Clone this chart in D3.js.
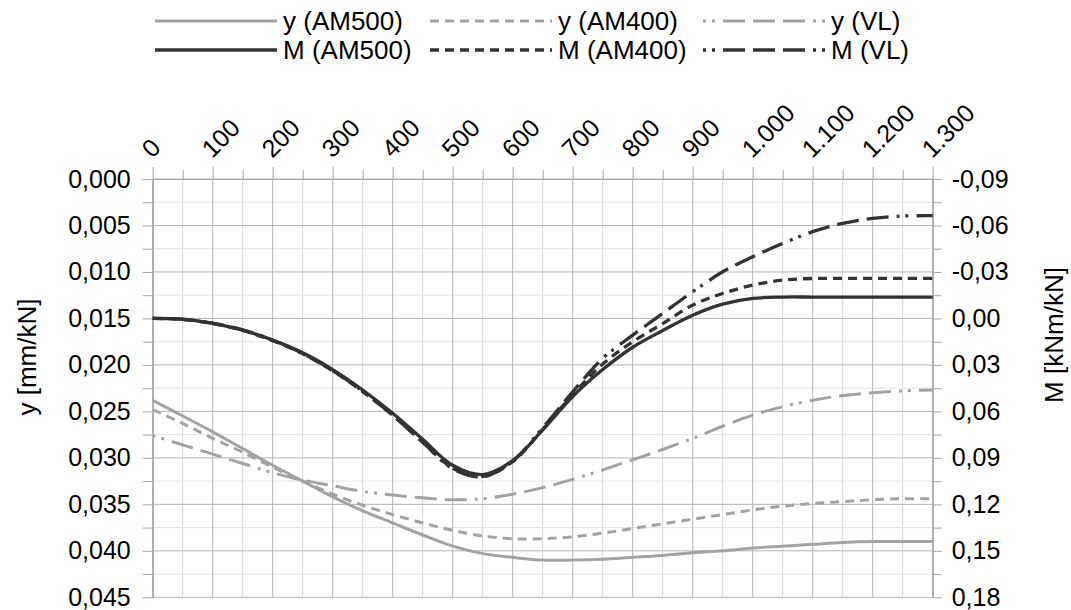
<!DOCTYPE html>
<html><head><meta charset="utf-8">
<script src="https://cdn.jsdelivr.net/npm/d3@7"></script>
<style>body{margin:0;background:#fff}</style>
</head><body>
<svg id="chart" width="1071" height="610"></svg>
<script>
// ---- data ----
const xValues = [0,50,100,150,200,250,300,350,400,450,500,550,600,650,700,750,800,850,900,950,1000,1050,1100,1150,1200,1250,1300];
const yAM500 = [0.0238,0.0255,0.0272,0.0290,0.0308,0.0325,0.0342,0.0357,0.0370,0.0383,0.0395,0.0403,0.0407,0.0410,0.0410,0.0409,0.0407,0.0405,0.0402,0.0400,0.0397,0.0395,0.0393,0.0391,0.0390,0.0390,0.0390];
const yAM400 = [0.0248,0.0263,0.0279,0.0294,0.0310,0.0325,0.0339,0.0351,0.0361,0.0370,0.0378,0.0384,0.0387,0.0387,0.0385,0.0381,0.0376,0.0371,0.0366,0.0361,0.0356,0.0352,0.0349,0.0347,0.0345,0.0344,0.0344];
const yVL    = [0.0276,0.0286,0.0296,0.0306,0.0316,0.0324,0.0330,0.0336,0.0340,0.0343,0.0345,0.0344,0.0339,0.0332,0.0323,0.0313,0.0302,0.0291,0.0279,0.0266,0.0254,0.0245,0.0238,0.0233,0.0230,0.0228,0.0227];
const mAM500 = [0.0000,0.0006,0.0032,0.0076,0.0140,0.0222,0.0330,0.0462,0.0612,0.0780,0.0948,0.1008,0.0918,0.0720,0.0504,0.0330,0.0186,0.0078,-0.0021,-0.0092,-0.0129,-0.0138,-0.0138,-0.0138,-0.0138,-0.0138,-0.0138];
const mAM400 = [0.0000,0.0006,0.0033,0.0078,0.0143,0.0228,0.0338,0.0472,0.0625,0.0798,0.0966,0.1020,0.0925,0.0716,0.0492,0.0294,0.0151,0.0033,-0.0086,-0.0161,-0.0215,-0.0247,-0.0258,-0.0258,-0.0258,-0.0258,-0.0258];
const mVL    = [0.0000,0.0005,0.0031,0.0074,0.0140,0.0226,0.0336,0.0470,0.0625,0.0800,0.0970,0.1022,0.0920,0.0706,0.0474,0.0258,0.0108,-0.0032,-0.0172,-0.0301,-0.0398,-0.0484,-0.0560,-0.0614,-0.0646,-0.0661,-0.0663];

const xTicks = [0,100,200,300,400,500,600,700,800,900,1000,1100,1200,1300];
const xMinorTicks = [50,150,250,350,450,550,650,750,850,950,1050,1150,1250];
const yTicks = [0,0.005,0.010,0.015,0.020,0.025,0.030,0.035,0.040,0.045];
const yMinorTicks = [0.0025,0.0075,0.0125,0.0175,0.0225,0.0275,0.0325,0.0375,0.0425];
const mTicks = [-0.09,-0.06,-0.03,0,0.03,0.06,0.09,0.12,0.15,0.18];
const legendNames = ["y (AM500)","y (AM400)","y (VL)","M (AM500)","M (AM400)","M (VL)"];
const yTitle = "y [mm/kN]";
const mTitle = "M [kNm/kN]";

// ---- setup ----
const locale = d3.formatLocale({decimal:",", thousands:".", grouping:[3], currency:["","€"], minus:"-"});
const fmtX = locale.format(",d");
const fmtY = locale.format(".3f");
const fmtM = locale.format(".2f");
const FONT = "'Liberation Sans', Arial, sans-serif";
const svg = d3.select("#chart");
const L = 152.7, R = 932.7, T = 179, B = 597.3;
const x = d3.scaleLinear([0,1300],[L,R]);
const yL = d3.scaleLinear([0,0.045],[T,B]);
const yR = d3.scaleLinear([-0.09,0.18],[T,B]);
const axisGray = "#a6a6a6";

// grid
const grid = svg.append("g");
grid.selectAll(".vmin").data(xMinorTicks).join("line")
  .attr("x1",d=>x(d)).attr("x2",d=>x(d)).attr("y1",T).attr("y2",B)
  .attr("stroke","#d6d6d6").attr("stroke-width",1);
grid.selectAll(".hmin").data(yMinorTicks).join("line")
  .attr("x1",L).attr("x2",R).attr("y1",d=>yL(d)).attr("y2",d=>yL(d))
  .attr("stroke","#e4e4e4").attr("stroke-width",1);
grid.selectAll(".vmaj").data(xTicks).join("line")
  .attr("x1",d=>x(d)).attr("x2",d=>x(d)).attr("y1",T).attr("y2",B)
  .attr("stroke","#b3b3b3").attr("stroke-width",1);
grid.selectAll(".hmaj").data(yTicks).join("line")
  .attr("x1",L).attr("x2",R).attr("y1",d=>yL(d)).attr("y2",d=>yL(d))
  .attr("stroke","#b3b3b3").attr("stroke-width",1);

function styleAxis(g){
  g.attr("font-family",FONT).attr("font-size",25);
  g.selectAll("path.domain").attr("stroke",axisGray);
  g.selectAll(".tick line").attr("stroke",axisGray);
  g.selectAll("text").attr("fill","#000");
}
// top axis
const gTop = svg.append("g").attr("transform",`translate(0,${T})`)
  .call(d3.axisTop(x).tickValues(xTicks).tickSize(12).tickSizeOuter(0).tickFormat(fmtX));
styleAxis(gTop);
gTop.selectAll("text").attr("x",null).attr("y",null).attr("dy",null)
  .attr("text-anchor","start").attr("transform","translate(-1,-20) rotate(-45)");
const gTopMin = svg.append("g").attr("transform",`translate(0,${T})`)
  .call(d3.axisTop(x).tickValues(xMinorTicks).tickSize(9).tickSizeOuter(0).tickFormat(""));
styleAxis(gTopMin);
// left axis
const gLeft = svg.append("g").attr("transform",`translate(${L},0)`)
  .call(d3.axisLeft(yL).tickValues(yTicks).tickSize(10).tickPadding(12).tickSizeOuter(0).tickFormat(fmtY));
styleAxis(gLeft);
const gLeftMin = svg.append("g").attr("transform",`translate(${L},0)`)
  .call(d3.axisLeft(yL).tickValues(yMinorTicks).tickSize(10).tickSizeOuter(0).tickFormat(""));
styleAxis(gLeftMin);
// right axis
const gRight = svg.append("g").attr("transform",`translate(${R},0)`)
  .call(d3.axisRight(yR).tickValues(mTicks).tickSize(9).tickPadding(10).tickSizeOuter(0).tickFormat(fmtM));
styleAxis(gRight);
const gRightMin = svg.append("g").attr("transform",`translate(${R},0)`)
  .call(d3.axisRight(yL).tickValues(yMinorTicks).tickSize(9).tickSizeOuter(0).tickFormat(""));
styleAxis(gRightMin);

// titles
svg.append("text").attr("transform","translate(36,357) rotate(-90)")
  .attr("text-anchor","middle").attr("font-family",FONT).attr("font-size",26).text(yTitle);
svg.append("text").attr("transform","translate(1063,335) rotate(-90)")
  .attr("text-anchor","middle").attr("font-family",FONT).attr("font-size",26).text(mTitle);

// series
const lightGray = "#a3a3a3", dark = "#333333";
const dashAM400 = "9,6";
const dashVL = "3,6,3,8,22,8,22,8,22,8";
const series = [
  {name:legendNames[0], vals:yAM500, scale:yL, color:lightGray, dash:null, w:3},
  {name:legendNames[1], vals:yAM400, scale:yL, color:lightGray, dash:dashAM400, w:3},
  {name:legendNames[2], vals:yVL,    scale:yL, color:lightGray, dash:dashVL, w:3},
  {name:legendNames[3], vals:mAM500, scale:yR, color:dark, dash:null, w:3.3},
  {name:legendNames[4], vals:mAM400, scale:yR, color:dark, dash:dashAM400, w:3.3},
  {name:legendNames[5], vals:mVL,    scale:yR, color:dark, dash:dashVL, w:3.3}
];
const plot = svg.append("g");
series.forEach(s=>{
  const line = d3.line().x((d,i)=>x(xValues[i])).y(d=>s.scale(d)).curve(d3.curveCatmullRom.alpha(0.5));
  plot.append("path").attr("d",line(s.vals)).attr("fill","none")
    .attr("stroke",s.color).attr("stroke-width",s.w)
    .attr("stroke-dasharray",s.dash).attr("stroke-linejoin","round");
});

// legend
const colX = [155,430,703];
const rowY = [21,50];
const lg = svg.append("g").attr("font-family",FONT).attr("font-size",26);
series.forEach((s,i)=>{
  const cx = colX[i%3], cy = rowY[Math.floor(i/3)];
  lg.append("line").attr("x1",cx).attr("x2",cx+122).attr("y1",cy).attr("y2",cy)
    .attr("stroke",s.color).attr("stroke-width",s.w).attr("stroke-dasharray",s.dash);
  lg.append("text").attr("x",cx+128).attr("y",cy).attr("dy","0.35em").attr("fill","#000").text(s.name);
});
</script>
</body></html>
